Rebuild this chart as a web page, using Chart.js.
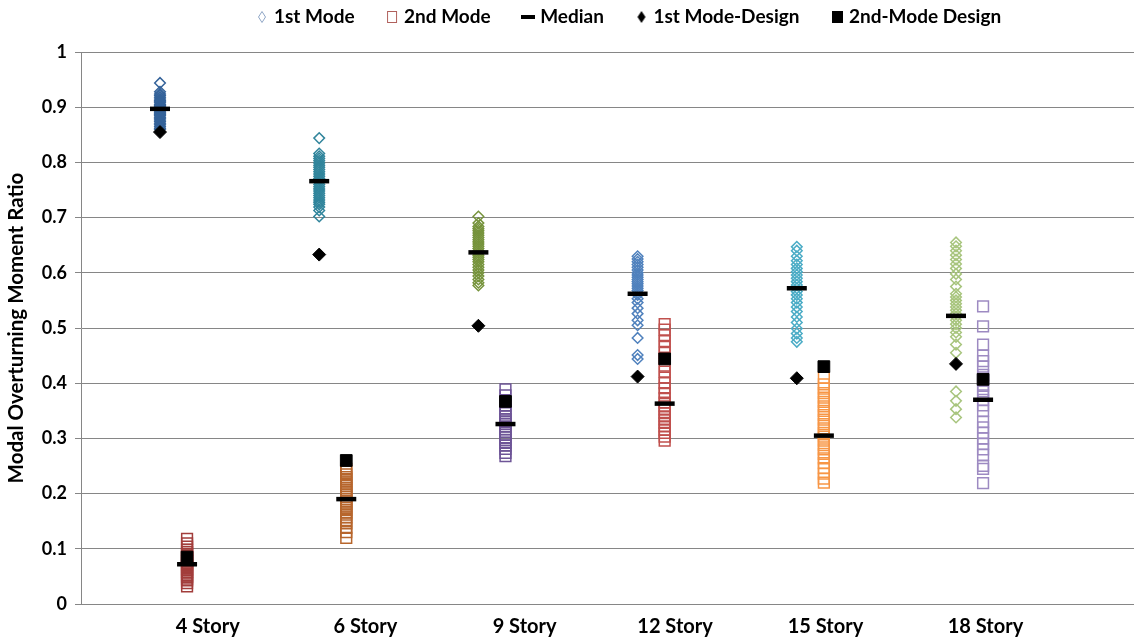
<!DOCTYPE html>
<html>
<head>
<meta charset="utf-8">
<script src="https://cdn.jsdelivr.net/npm/chart.js@4.4.1/dist/chart.umd.min.js"></script>
<style>
  html, body { margin: 0; padding: 0; background: #ffffff; overflow: hidden; }
  #wrap { width: 1134px; height: 644px; overflow: hidden; }
  canvas { display: block; }
</style>
</head>
<body>
<div id="wrap"><canvas id="chart" width="1134" height="644"></canvas></div>
<script>
// Building heights shown along the horizontal axis
const categories = ['4 Story', '6 Story', '9 Story', '12 Story', '15 Story', '18 Story'];

// First-mode overturning moment ratio, one value per ground motion
const firstMode4  = [0.944, 0.928, 0.924, 0.921, 0.918, 0.915, 0.912, 0.910, 0.908, 0.905, 0.903, 0.901, 0.899, 0.897, 0.895, 0.893, 0.891, 0.889, 0.887, 0.885, 0.882, 0.880, 0.877, 0.874, 0.871, 0.868, 0.865, 0.862, 0.860];
const firstMode6  = [0.844, 0.816, 0.811, 0.807, 0.803, 0.799, 0.795, 0.791, 0.787, 0.783, 0.779, 0.775, 0.771, 0.768, 0.764, 0.760, 0.756, 0.752, 0.748, 0.744, 0.740, 0.736, 0.732, 0.728, 0.724, 0.719, 0.713, 0.702];
const firstMode9  = [0.702, 0.690, 0.684, 0.680, 0.676, 0.672, 0.668, 0.664, 0.660, 0.656, 0.652, 0.648, 0.644, 0.640, 0.636, 0.632, 0.628, 0.624, 0.620, 0.615, 0.610, 0.605, 0.600, 0.594, 0.588, 0.582, 0.577];
const firstMode12 = [0.630, 0.625, 0.620, 0.615, 0.610, 0.605, 0.600, 0.596, 0.592, 0.588, 0.584, 0.580, 0.576, 0.572, 0.568, 0.564, 0.560, 0.553, 0.546, 0.536, 0.526, 0.514, 0.505, 0.482, 0.451, 0.444];
const firstMode15 = [0.647, 0.640, 0.630, 0.622, 0.615, 0.608, 0.602, 0.596, 0.590, 0.584, 0.578, 0.572, 0.566, 0.560, 0.553, 0.546, 0.538, 0.530, 0.520, 0.510, 0.499, 0.490, 0.482, 0.475];
const firstMode18 = [0.655, 0.648, 0.640, 0.632, 0.624, 0.616, 0.608, 0.598, 0.588, 0.575, 0.562, 0.556, 0.550, 0.544, 0.538, 0.532, 0.526, 0.520, 0.514, 0.507, 0.500, 0.492, 0.484, 0.470, 0.455, 0.385, 0.368, 0.353, 0.338];

// Second-mode overturning moment ratio, one value per ground motion
const secondMode4  = [0.118, 0.110, 0.104, 0.098, 0.094, 0.090, 0.087, 0.084, 0.081, 0.078, 0.075, 0.072, 0.070, 0.067, 0.064, 0.061, 0.058, 0.055, 0.052, 0.049, 0.046, 0.043, 0.038, 0.032];
const secondMode6  = [0.245, 0.240, 0.235, 0.230, 0.226, 0.222, 0.218, 0.214, 0.210, 0.206, 0.202, 0.198, 0.194, 0.190, 0.186, 0.182, 0.178, 0.174, 0.170, 0.166, 0.162, 0.157, 0.152, 0.146, 0.138, 0.130, 0.120];
const secondMode9  = [0.389, 0.378, 0.366, 0.360, 0.352, 0.346, 0.340, 0.335, 0.330, 0.326, 0.322, 0.317, 0.312, 0.307, 0.302, 0.297, 0.292, 0.287, 0.281, 0.274, 0.268];
const secondMode12 = [0.507, 0.497, 0.487, 0.476, 0.466, 0.455, 0.445, 0.432, 0.421, 0.410, 0.400, 0.391, 0.382, 0.373, 0.365, 0.358, 0.352, 0.346, 0.340, 0.334, 0.328, 0.322, 0.316, 0.310, 0.303, 0.296];
const secondMode15 = [0.410, 0.398, 0.390, 0.382, 0.374, 0.366, 0.358, 0.350, 0.342, 0.334, 0.326, 0.318, 0.310, 0.303, 0.296, 0.288, 0.280, 0.272, 0.264, 0.255, 0.246, 0.236, 0.227, 0.220];
const secondMode18 = [0.539, 0.503, 0.470, 0.450, 0.440, 0.430, 0.415, 0.405, 0.395, 0.385, 0.378, 0.370, 0.360, 0.350, 0.330, 0.320, 0.310, 0.300, 0.290, 0.280, 0.270, 0.250, 0.245, 0.219];

// Medians of each mode and the values from the design procedure
const medianFirst  = [0.897, 0.766, 0.637, 0.562, 0.572, 0.522];
const medianSecond = [0.072, 0.190, 0.326, 0.363, 0.305, 0.370];
const designFirst  = [0.855, 0.633, 0.504, 0.412, 0.409, 0.435];
const designSecond = [0.085, 0.260, 0.367, 0.444, 0.430, 0.407];

// Y-axis tick values
const yTicks = [0, 0.1, 0.2, 0.3, 0.4, 0.5, 0.6, 0.7, 0.8, 0.9, 1];

const firstModeSets  = [firstMode4, firstMode6, firstMode9, firstMode12, firstMode15, firstMode18];
const secondModeSets = [secondMode4, secondMode6, secondMode9, secondMode12, secondMode15, secondMode18];

// Per-building marker colours
const firstColors  = ['#35639A', '#31859C', '#76933C', '#4F81BD', '#4BACC6', '#A8C57E'];
const secondColors = ['#A23D3B', '#B7662C', '#6E5597', '#C0504D', '#F79646', '#9D8AC2'];

// Column positions on the horizontal value axis
const firstX  = i => i + 1;
const secondX = i => i + 1.17;
const labelX  = [1.30, 2.29, 3.29, 4.235, 5.18, 6.185];

const FONT = "'Lato', 'Liberation Sans', sans-serif";

const datasets = [];

datasets.push({
  label: 'Median',
  data: categories.flatMap((c, i) => [
    { x: firstX(i), y: medianFirst[i] },
    { x: secondX(i), y: medianSecond[i] }
  ]),
  pointStyle: 'line', pointRadius: 10, pointBorderWidth: 4.5,
  borderColor: '#000000', backgroundColor: '#000000',
  showLine: false, order: 0
});
datasets.push({
  label: '1st Mode-Design',
  data: categories.map((c, i) => ({ x: firstX(i), y: designFirst[i] })),
  pointStyle: 'rectRot', pointRadius: 6.5, pointBorderWidth: 1,
  borderColor: '#000000', backgroundColor: '#000000',
  showLine: false, order: 1
});
datasets.push({
  label: '2nd-Mode Design',
  data: categories.map((c, i) => ({ x: secondX(i), y: designSecond[i] })),
  pointStyle: 'rect', pointRadius: 8.3, pointBorderWidth: 1,
  borderColor: '#000000', backgroundColor: '#000000',
  showLine: false, order: 1
});

categories.forEach((c, i) => {
  datasets.push({
    label: '1st Mode ' + c,
    data: firstModeSets[i].map(v => ({ x: firstX(i), y: v })),
    pointStyle: 'rectRot', pointRadius: 5.3, pointBorderWidth: 1.5,
    borderColor: firstColors[i], backgroundColor: 'rgba(255,255,255,0)',
    showLine: false, order: 3
  });
  datasets.push({
    label: '2nd Mode ' + c,
    data: secondModeSets[i].map(v => ({ x: secondX(i), y: v })),
    pointStyle: 'rect', pointRadius: 7.6, pointBorderWidth: 1.5,
    borderColor: secondColors[i], backgroundColor: 'rgba(255,255,255,0)',
    showLine: false, order: 3
  });
});

// Small canvases used as legend symbols
function legendSymbol(w, h, draw) {
  const cv = document.createElement('canvas');
  cv.width = w; cv.height = h;
  draw(cv.getContext('2d'), w, h);
  return cv;
}
const symOpenDiamond = legendSymbol(10, 14, (g, w, h) => {
  g.strokeStyle = '#8FA6C6'; g.lineWidth = 1;
  g.beginPath(); g.moveTo(w / 2, 1.5); g.lineTo(w - 1.5, h / 2); g.lineTo(w / 2, h - 1.5); g.lineTo(1.5, h / 2); g.closePath(); g.stroke();
});
const symOpenSquare = legendSymbol(12, 14, (g, w, h) => {
  g.strokeStyle = '#B0605C'; g.lineWidth = 1;
  g.strokeRect(1.5, 1.5, w - 3, h - 3);
});
const symDash = legendSymbol(14, 4, (g, w, h) => {
  g.fillStyle = '#000000'; g.fillRect(0, 0, w, h);
});
const symDiamond = legendSymbol(10, 14, (g, w, h) => {
  g.fillStyle = '#000000';
  g.beginPath(); g.moveTo(w / 2, 1); g.lineTo(w - 1, h / 2); g.lineTo(w / 2, h - 1); g.lineTo(1, h / 2); g.closePath(); g.fill();
});
const symSquare = legendSymbol(11, 12, (g, w, h) => {
  g.fillStyle = '#000000'; g.fillRect(0, 0, w, h);
});

const legendEntries = [
  { text: '1st Mode', pointStyle: symOpenDiamond },
  { text: '2nd Mode', pointStyle: symOpenSquare },
  { text: 'Median', pointStyle: symDash },
  { text: '1st Mode-Design', pointStyle: symDiamond },
  { text: '2nd-Mode Design', pointStyle: symSquare }
];

// Places the legend row across the top of the plot
const legendPlacement = {
  id: 'legendPlacement',
  afterLayout(chart) {
    const lg = chart.legend;
    if (!lg) return;
    const pad = lg.options.labels.padding;
    const itemH = lg.options.labels.font.size;
    const dx = 259.5 - (lg.left + pad);
    const dy = (17 - itemH / 2 - pad) - lg.top;
    lg.left += dx; lg.right += dx;
    lg.top += dy;
    lg.bottom = lg.top + pad + itemH + 12;
  }
};

new Chart(document.getElementById('chart'), {
  type: 'scatter',
  data: { datasets },
  plugins: [legendPlacement],
  options: {
    responsive: false,
    animation: false,
    devicePixelRatio: 1,
    layout: { autoPadding: false, padding: { top: 12, right: 0, bottom: 0, left: 0 } },
    plugins: {
      tooltip: { enabled: false },
      legend: {
        display: true,
        position: 'top',
        align: 'start',
        maxHeight: 40,
        labels: {
          usePointStyle: true,
          boxWidth: 5,
          boxHeight: 19,
          padding: 35,
          color: '#000000',
          font: { family: FONT, size: 19, weight: 'bold' },
          generateLabels: () => legendEntries.map(e => ({
            text: e.text,
            pointStyle: e.pointStyle,
            fillStyle: '#000000',
            strokeStyle: '#000000',
            lineWidth: 0,
            hidden: false,
            datasetIndex: 0
          }))
        },
        onClick: () => {}
      }
    },
    scales: {
      x: {
        type: 'linear',
        min: 0.5038,
        max: 7.118,
        grid: { display: false, drawTicks: false },
        border: { display: true, color: '#868686', width: 1 },
        afterBuildTicks: scale => { scale.ticks = labelX.map(v => ({ value: v })); },
        afterFit: scale => { scale.height = 40; scale.paddingLeft = 0; scale.paddingRight = 0; },
        ticks: {
          autoSkip: false,
          maxRotation: 0,
          padding: 11,
          color: '#000000',
          font: { family: FONT, size: 20, weight: 'bold' },
          callback: (v, idx) => categories[idx]
        }
      },
      y: {
        type: 'linear',
        min: 0,
        max: 1,
        afterBuildTicks: scale => { scale.ticks = yTicks.map(v => ({ value: v })); },
        afterFit: scale => { scale.width = 81; },
        grid: { color: '#868686', lineWidth: 1, drawTicks: true, tickLength: 6 },
        border: { display: true, color: '#868686', width: 1 },
        ticks: {
          padding: 8,
          color: '#000000',
          font: { family: FONT, size: 18, weight: 'bold' },
          callback: v => String(Math.round(v * 10) / 10)
        },
        title: {
          display: true,
          text: 'Modal Overturning Moment Ratio',
          color: '#000000',
          font: { family: FONT, size: 20.5, weight: 'bold' },
          padding: { top: 4, bottom: 0 }
        }
      }
    }
  }
});
</script>
</body>
</html>
